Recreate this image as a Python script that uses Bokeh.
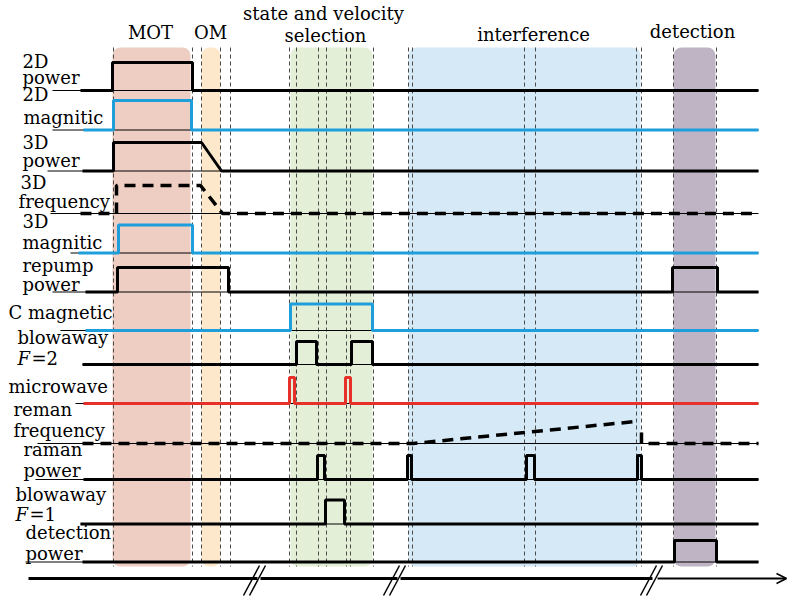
from bokeh.plotting import figure
from bokeh.models import BoxAnnotation, Arrow, OpenHead, Range1d
from bokeh.core.properties import value
from bokeh.embed import file_html
from bokeh.resources import INLINE

# ---------------- data (schematic time axis in drawing units) ----------------
T_END = 758

# phase headers
phase_label = ["MOT", "OM", "state and velocity", "selection", "interference", "detection"]
phase_label_x = [150, 210, 323, 325, 533, 692]
phase_label_y = [38, 38, 19, 41, 40, 37]

# shaded phases
phase_start = [112, 201, 290, 408, 673]
phase_end = [190, 220, 372, 640, 715]
phase_color = ["#EECDC2", "#FDE8CB", "#E3EFD6", "#D6E9F6", "#BEB4C3"]

# dashed event markers
marker_t = [113, 192, 201, 220, 230, 289, 296, 318, 326, 346, 350, 373,
            408, 412, 524, 535, 636, 641, 673, 716]

# rows: name, baseline, high level, start of thin underline
row_name = ["p2d", "m2d", "p3d", "f3d", "m3d", "repump", "cmag", "bw2",
            "mw", "ramanf", "ramanp", "bw1", "det"]
row_base = [90, 129.5, 170.5, 213, 252.5, 291.5, 330, 364, 403, 443, 479, 523.5, 561.5]
row_high = [62, 100, 142, 185, 224.5, 267, 303.5, 341, 377, 421, 455, 499.5, 540]
row_thin_start = [52, 52, 47, 50, 70, 52, 60, 82, 75, 37, 35, 80, 25]

# signal transitions (time, level 0/1)
p2d_t = [80, 112, 112, 192, 192, T_END]
p2d_lv = [0, 0, 1, 1, 0, 0]
m2d_t = [83, 113, 113, 191, 191, T_END]
m2d_lv = [0, 0, 1, 1, 0, 0]
p3d_t = [82, 113, 113, 201, 221, T_END]
p3d_lv = [0, 0, 1, 1, 0, 0]
f3d_t = [80, 116, 116, 200, 222, T_END]
f3d_lv = [0, 0, 1, 1, 0, 0]
m3d_t = [78, 118, 118, 192, 192, T_END]
m3d_lv = [0, 0, 1, 1, 0, 0]
repump_t = [85, 117, 117, 228, 228, 672, 672, 717, 717, T_END]
repump_lv = [0, 0, 1, 1, 0, 0, 1, 1, 0, 0]
cmag_t = [85, 290, 290, 372, 372, T_END]
cmag_lv = [0, 0, 1, 1, 0, 0]
bw2_t = [82, 296, 296, 316, 316, 351, 351, 372, 372, T_END]
bw2_lv = [0, 0, 1, 1, 0, 0, 1, 1, 0, 0]
mw_t = [83, 289, 289, 294, 294, 345, 345, 350, 350, T_END]
mw_lv = [0, 0, 1, 1, 0, 0, 1, 1, 0, 0]
ramanf_t = [82, 413, 635]
ramanf_lv = [0, 0, 1]
ramanf2_t = [641, 641, T_END]
ramanf2_lv = [0.5, 0, 0]
ramanp_t = [83, 317, 317, 324, 324, 407, 407, 411, 411, 526, 526, 534, 534,
            637, 637, 641, 641, T_END]
ramanp_lv = [0, 0, 1, 1, 0, 0, 1, 1, 0, 0, 1, 1, 0, 0, 1, 1, 0, 0]
bw1_t = [80, 325, 325, 344, 344, T_END]
bw1_lv = [0, 0, 1, 1, 0, 0]
det_t = [82, 674, 674, 716, 716, T_END]
det_lv = [0, 0, 1, 1, 0, 0]

# row labels
label_text = ["2D", "power", "2D", "magnitic", "3D", "power", "3D", "frequency",
              "3D", "magnitic", "repump", "power", "C magnetic", "blowaway",
              "microwave", "reman", "frequency", "raman", "power", "blowaway",
              "detection", "power"]
label_x = [22, 22, 22, 23, 22, 22, 20, 18, 22, 22, 22, 22, 8, 17, 8, 13, 13,
           23, 23, 15, 25, 25]
label_y = [67, 83, 100, 123, 148, 166, 188, 207, 227, 248, 271, 290, 318, 343,
           392, 415, 436, 455, 476, 500, 538, 559]
flabel_text = ["F", "F"]
flabel_rest = ["=2", "=1"]
flabel_x = [17, 15]
flabel_y = [364, 520]

# time axis with breaks
axis_seg_start = [28, 260, 400, 657]
axis_seg_end = [257, 397, 652, 786]
axis_y = 578
break_x = [243, 383, 640]

# ---------------- figure ----------------
FONT = "DejaVu Serif"
TXT_OFF = -6
p = figure(width=790, height=598, output_backend="svg", toolbar_location=None,
           x_range=Range1d(0, 790), y_range=Range1d(598, 0),
           min_border=0, outline_line_color=None)
p.axis.visible = False
p.grid.visible = False
p.background_fill_color = "white"

for s, e, c in zip(phase_start, phase_end, phase_color):
    p.add_layout(BoxAnnotation(left=s, right=e, top=47, bottom=566,
                               fill_color=c, fill_alpha=1.0, line_color=None,
                               border_radius=8, level="underlay"))

p.segment(x0=marker_t, x1=marker_t, y0=[47] * len(marker_t), y1=[566] * len(marker_t),
          line_color="#4a4a4a", line_width=1, line_dash="4 3")

# thin baselines
p.segment(x0=row_thin_start, x1=[T_END] * len(row_base), y0=row_base, y1=row_base,
          line_color="black", line_width=1.2)


def lvl(name, levels):
    i = row_name.index(name)
    b, h = row_base[i], row_high[i]
    return [b - l * (b - h) for l in levels]


BLACK, BLUE, RED = "black", "#1E9FDC", "#E8302A"
p.line(p2d_t, lvl("p2d", p2d_lv), line_color=BLACK, line_width=3)
p.line(m2d_t, lvl("m2d", m2d_lv), line_color=BLUE, line_width=3)
p.line(p3d_t, lvl("p3d", p3d_lv), line_color=BLACK, line_width=3)
p.line(f3d_t, lvl("f3d", f3d_lv), line_color=BLACK, line_width=3.5, line_dash="11 7")
p.line(m3d_t, lvl("m3d", m3d_lv), line_color=BLUE, line_width=3)
p.line(repump_t, lvl("repump", repump_lv), line_color=BLACK, line_width=3)
p.line(cmag_t, lvl("cmag", cmag_lv), line_color=BLUE, line_width=3)
p.line(bw2_t, lvl("bw2", bw2_lv), line_color=BLACK, line_width=3)
p.line(mw_t, lvl("mw", mw_lv), line_color=RED, line_width=3)
p.line(ramanf_t, lvl("ramanf", ramanf_lv), line_color=BLACK, line_width=3.5, line_dash="11 7")
p.line(ramanf2_t, lvl("ramanf", ramanf2_lv), line_color=BLACK, line_width=3.5, line_dash="11 7")
p.line(ramanp_t, lvl("ramanp", ramanp_lv), line_color=BLACK, line_width=3)
p.line(bw1_t, lvl("bw1", bw1_lv), line_color=BLACK, line_width=3)
p.line(det_t, lvl("det", det_lv), line_color=BLACK, line_width=3)

# labels
p.text(x=label_x, y=label_y, text=label_text, text_font=value(FONT),
       text_font_size="18px", text_color="black", text_baseline="alphabetic",
       text_align="left", y_offset=TXT_OFF)
p.text(x=flabel_x, y=flabel_y, text=flabel_text, text_font=value(FONT),
       text_font_size="18px", text_font_style="italic", text_color="black",
       text_baseline="alphabetic", text_align="left", y_offset=TXT_OFF)
p.text(x=[x + 14 for x in flabel_x], y=flabel_y, text=flabel_rest, text_font=value(FONT),
       text_font_size="18px", text_color="black", text_baseline="alphabetic",
       text_align="left", y_offset=TXT_OFF)
p.text(x=phase_label_x, y=phase_label_y, text=phase_label, text_font=value(FONT),
       text_font_size="18px", text_color="black", text_baseline="alphabetic",
       text_align="center", y_offset=TXT_OFF)

# time axis
p.segment(x0=axis_seg_start[:-1], x1=axis_seg_end[:-1], y0=[axis_y] * 3, y1=[axis_y] * 3,
          line_color="black", line_width=3)
p.add_layout(Arrow(end=OpenHead(size=10, line_color="black", line_width=1.5),
                   x_start=axis_seg_start[-1], y_start=axis_y,
                   x_end=axis_seg_end[-1], y_end=axis_y, line_width=2.2, line_color="black"))
bx0 = [x + d for x in break_x for d in (0, 6)]
p.segment(x0=bx0, x1=[x + 16 for x in bx0], y0=[595] * len(bx0), y1=[565] * len(bx0),
          line_color="black", line_width=1.5)

open("out.html", "w").write(file_html(p, INLINE))
